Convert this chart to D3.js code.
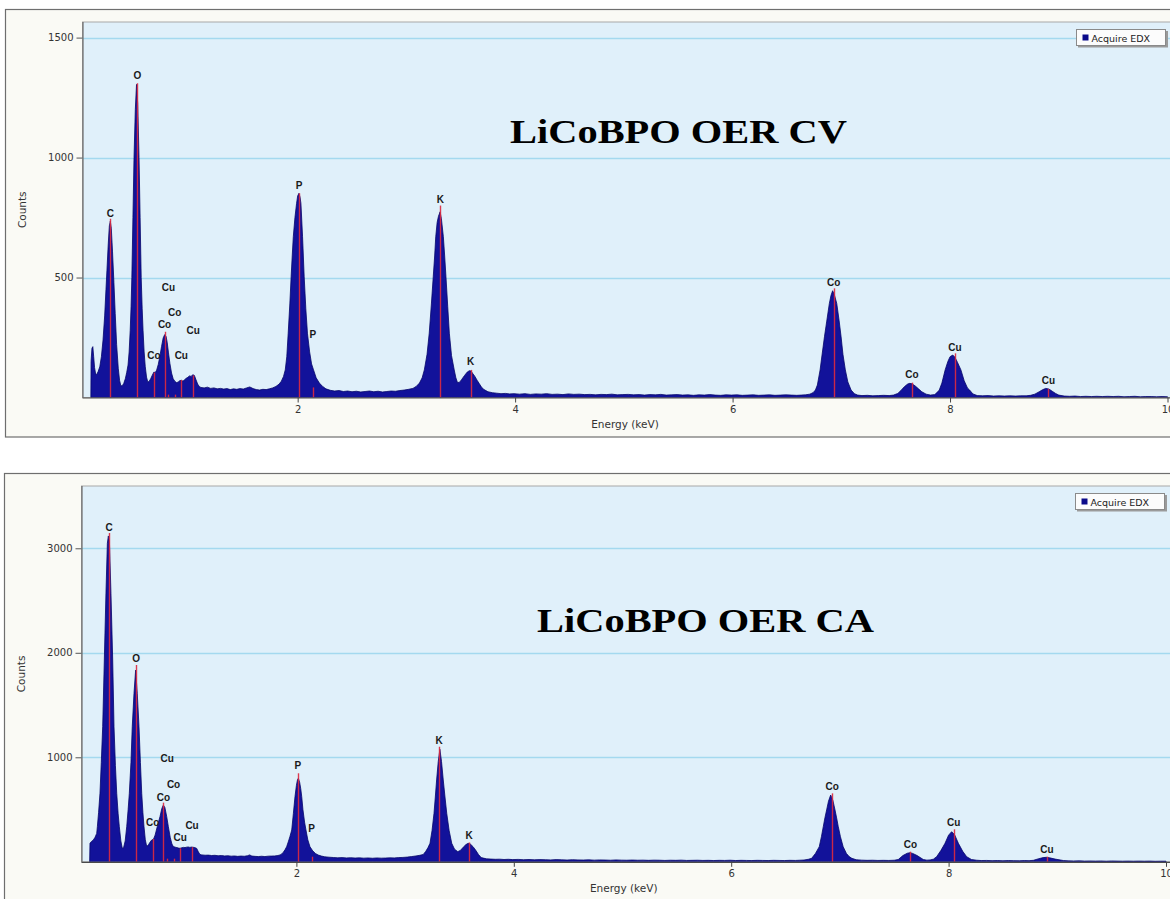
<!DOCTYPE html>
<html>
<head>
<meta charset="utf-8">
<script src="https://cdn.jsdelivr.net/npm/d3@7"></script>
<style>
  html, body { margin: 0; padding: 0; background: #ffffff; }
  svg { display: block; }
</style>
</head>
<body>
<svg id="chart" width="1170" height="899"></svg>
<script>
// ---- EDX spectra: [energy keV, counts] ----
const cvSpectrum = [
  [0.098,0],[0.100,150],[0.108,205],[0.116,212],[0.124,170],[0.132,125],[0.142,98],[0.152,96],[0.165,108],
  [0.180,128],[0.195,170],[0.210,240],[0.225,340],[0.237,450],[0.246,530],[0.258,640],[0.268,715],[0.277,735],
  [0.286,705],[0.297,610],[0.310,480],[0.322,350],[0.335,220],[0.350,122],[0.362,72],[0.374,48],[0.388,50],
  [0.400,58],[0.415,78],[0.428,105],[0.440,135],[0.450,190],[0.460,280],[0.468,380],[0.475,500],[0.485,750],
  [0.495,1000],[0.507,1200],[0.518,1305],[0.529,1225],[0.541,1000],[0.551,750],[0.561,500],[0.570,370],
  [0.578,280],[0.588,190],[0.598,130],[0.610,85],[0.622,64],[0.635,68],[0.648,78],[0.662,92],[0.678,106],
  [0.690,104],[0.703,114],[0.718,138],[0.733,172],[0.748,212],[0.763,248],[0.777,262],[0.790,254],[0.800,230],
  [0.812,186],[0.825,142],[0.840,102],[0.855,78],[0.870,68],[0.885,62],[0.900,64],[0.915,70],[0.930,72],
  [0.945,68],[0.960,74],[0.975,80],[0.990,84],[1.005,90],[1.020,88],[1.035,95],[1.050,92],[1.065,74],
  [1.080,56],[1.095,46],[1.110,42],[1.14,40],[1.17,43],[1.20,38],[1.23,40],[1.26,36],[1.29,38],[1.32,35],
  [1.35,37],[1.38,33],[1.41,36],[1.44,34],[1.47,37],[1.50,35],[1.53,40],[1.56,44],[1.59,37],[1.62,33],
  [1.65,31],[1.68,34],[1.71,33],[1.74,36],[1.77,40],[1.80,46],[1.83,56],[1.85,68],[1.87,88],[1.886,115],
  [1.900,170],[1.913,268],[1.928,390],[1.940,503],[1.950,590],[1.960,670],[1.975,750],[1.990,809],[2.000,840],
  [2.012,851],[2.022,835],[2.030,809],[2.045,670],[2.060,503],[2.075,370],[2.090,268],[2.110,190],[2.128,140],
  [2.146,115],[2.170,82],[2.200,60],[2.230,46],[2.260,36],[2.30,30],[2.34,27],[2.38,29],[2.42,25],[2.46,27],
  [2.50,24],[2.54,26],[2.58,23],[2.62,25],[2.66,27],[2.70,24],[2.74,26],[2.78,23],[2.82,25],[2.86,27],
  [2.90,26],[2.94,29],[2.98,31],[3.02,34],[3.06,38],[3.09,46],[3.12,60],[3.145,82],[3.165,115],[3.190,180],
  [3.210,268],[3.230,390],[3.247,503],[3.260,590],[3.270,670],[3.283,730],[3.295,755],[3.310,774],[3.322,745],
  [3.340,670],[3.352,590],[3.364,503],[3.380,380],[3.395,268],[3.415,175],[3.440,115],[3.455,82],[3.470,62],
  [3.490,64],[3.510,76],[3.535,92],[3.560,106],[3.580,112],[3.595,110],[3.610,100],[3.630,88],[3.650,72],
  [3.670,58],[3.690,44],[3.710,34],[3.75,24],[3.79,20],[3.83,18],[3.87,16],[3.91,17],[3.95,15],[3.99,16],
  [4.04,14],[4.09,16],[4.14,13],[4.19,15],[4.24,14],[4.29,16],[4.34,13],[4.39,14],[4.44,12],[4.49,15],
  [4.54,13],[4.59,14],[4.64,12],[4.69,13],[4.74,11],[4.79,13],[4.84,12],[4.89,14],[4.94,11],[4.99,12],
  [5.04,13],[5.09,11],[5.14,12],[5.19,10],[5.24,12],[5.29,11],[5.34,13],[5.39,10],[5.44,11],[5.49,12],
  [5.54,10],[5.59,11],[5.64,9],[5.69,11],[5.74,10],[5.79,12],[5.84,10],[5.89,9],[5.94,11],[5.99,10],
  [6.04,11],[6.09,9],[6.14,10],[6.19,11],[6.24,9],[6.29,10],[6.34,11],[6.39,9],[6.44,10],[6.49,11],
  [6.54,10],[6.59,9],[6.63,10],[6.67,11],[6.71,14],[6.74,20],[6.762,31],[6.780,52],[6.805,115],[6.825,185],
  [6.845,253],[6.865,315],[6.890,392],[6.905,425],[6.920,445],[6.935,430],[6.958,392],[6.980,320],[6.998,253],
  [7.015,180],[7.037,115],[7.060,65],[7.090,31],[7.12,16],[7.15,10],[7.19,8],[7.24,9],[7.29,7],[7.34,8],
  [7.39,9],[7.44,8],[7.48,10],[7.52,17],[7.55,30],[7.58,45],[7.61,56],[7.63,59],[7.65,57],[7.68,48],
  [7.71,36],[7.74,24],[7.78,14],[7.82,10],[7.86,12],[7.90,30],[7.925,60],[7.955,115],[7.980,150],[8.000,170],
  [8.025,177],[8.045,168],[8.070,145],[8.100,115],[8.130,70],[8.160,40],[8.180,31],[8.21,15],[8.25,8],[8.30,7],
  [8.35,8],[8.40,6],[8.45,7],[8.50,6],[8.55,7],[8.60,6],[8.65,7],[8.70,7],[8.74,9],[8.78,14],[8.82,24],
  [8.85,32],[8.88,38],[8.91,35],[8.94,26],[8.97,17],[9.00,10],[9.05,6],[9.10,5],[9.15,6],[9.20,4],[9.25,5],
  [9.30,4],[9.35,5],[9.40,4],[9.45,5],[9.50,4],[9.55,5],[9.60,3],[9.65,4],[9.70,5],[9.75,3],[9.80,4],
  [9.85,4],[9.90,3],[9.95,4],[10.0,3],[10.0,0]
];

const caSpectrum = [
  [0.098,0],[0.101,177],[0.115,195],[0.132,209],[0.148,235],[0.163,272],[0.169,336],[0.180,470],[0.193,655],
  [0.205,950],[0.218,1293],[0.233,1931],[0.248,2570],[0.261,3048],[0.270,3118],[0.280,3060],[0.294,2570],
  [0.310,1931],[0.322,1293],[0.335,920],[0.347,655],[0.360,460],[0.371,336],[0.385,200],[0.398,130],
  [0.410,135],[0.425,200],[0.439,336],[0.452,500],[0.463,655],[0.478,950],[0.490,1293],[0.506,1612],
  [0.521,1835],[0.536,1612],[0.552,1293],[0.565,950],[0.577,655],[0.588,470],[0.598,336],[0.610,210],
  [0.623,146],[0.640,165],[0.655,190],[0.669,209],[0.685,215],[0.700,255],[0.720,336],[0.745,432],
  [0.762,510],[0.776,543],[0.790,520],[0.807,432],[0.822,336],[0.840,230],[0.855,170],[0.868,146],
  [0.885,140],[0.900,136],[0.915,132],[0.929,129],[0.945,134],[0.960,138],[0.975,136],[0.990,140],
  [1.005,142],[1.020,138],[1.035,141],[1.050,139],[1.065,136],[1.083,128],[1.098,95],[1.113,70],[1.13,66],
  [1.16,63],[1.19,64],[1.22,60],[1.25,62],[1.28,58],[1.31,60],[1.34,56],[1.37,58],[1.40,54],[1.43,56],
  [1.46,52],[1.49,55],[1.52,53],[1.55,58],[1.57,66],[1.59,55],[1.62,52],[1.65,50],[1.68,53],[1.71,50],
  [1.74,54],[1.77,55],[1.80,56],[1.83,60],[1.85,66],[1.865,75],[1.880,92],[1.895,115],[1.910,144],[1.925,190],
  [1.940,240],[1.957,304],[1.972,460],[1.987,623],[2.000,730],[2.010,785],[2.018,799],[2.030,760],[2.040,700],
  [2.049,623],[2.060,500],[2.075,380],[2.088,304],[2.105,210],[2.125,144],[2.150,105],[2.175,80],[2.200,65],
  [2.23,55],[2.26,48],[2.30,44],[2.34,41],[2.38,38],[2.42,40],[2.46,37],[2.50,39],[2.54,36],[2.58,38],
  [2.62,35],[2.66,37],[2.70,34],[2.74,37],[2.78,35],[2.82,36],[2.86,38],[2.90,37],[2.94,40],[2.98,42],
  [3.02,45],[3.06,50],[3.10,56],[3.135,62],[3.167,70],[3.190,100],[3.210,135],[3.229,177],[3.248,300],
  [3.266,464],[3.278,620],[3.290,783],[3.305,960],[3.320,1077],[3.335,960],[3.351,783],[3.367,620],
  [3.383,464],[3.405,300],[3.429,177],[3.455,120],[3.485,97],[3.510,110],[3.535,140],[3.560,165],[3.580,177],
  [3.600,170],[3.625,145],[3.650,110],[3.675,70],[3.700,40],[3.75,28],[3.79,26],[3.83,24],[3.87,25],
  [3.91,22],[3.95,24],[3.99,21],[4.04,23],[4.09,20],[4.14,22],[4.19,19],[4.24,21],[4.29,20],[4.34,18],
  [4.39,21],[4.44,19],[4.49,17],[4.54,20],[4.59,18],[4.64,17],[4.69,19],[4.74,16],[4.79,18],[4.84,17],
  [4.89,15],[4.94,18],[4.99,16],[5.04,15],[5.09,17],[5.14,15],[5.19,16],[5.24,14],[5.29,16],[5.34,15],
  [5.39,13],[5.44,15],[5.49,14],[5.54,16],[5.59,13],[5.64,14],[5.69,15],[5.74,13],[5.79,14],[5.84,12],
  [5.89,14],[5.94,13],[5.99,15],[6.04,12],[6.09,14],[6.14,13],[6.19,12],[6.24,14],[6.29,13],[6.34,12],
  [6.39,14],[6.44,13],[6.49,12],[6.54,14],[6.59,13],[6.63,15],[6.67,17],[6.71,24],[6.74,33],[6.775,80],
  [6.810,144],[6.830,240],[6.847,336],[6.862,420],[6.878,496],[6.895,580],[6.915,639],[6.935,590],
  [6.955,496],[6.970,420],[6.985,336],[7.005,240],[7.030,144],[7.060,80],[7.085,50],[7.110,33],[7.15,20],
  [7.20,16],[7.25,14],[7.30,15],[7.35,13],[7.40,14],[7.45,13],[7.50,15],[7.537,22],[7.580,60],[7.620,82],
  [7.645,87],[7.670,80],[7.710,60],[7.767,22],[7.80,16],[7.83,18],[7.86,25],[7.890,49],[7.930,110],
  [7.967,177],[8.000,255],[8.028,288],[8.055,260],[8.090,177],[8.130,100],[8.166,49],[8.210,22],[8.258,15],
  [8.30,12],[8.35,13],[8.40,11],[8.45,12],[8.50,10],[8.55,12],[8.60,11],[8.65,10],[8.70,12],[8.74,11],
  [8.78,14],[8.83,30],[8.87,40],[8.90,43],[8.93,38],[8.98,26],[9.056,12],[9.10,9],[9.15,8],[9.20,9],
  [9.25,7],[9.30,8],[9.35,7],[9.40,8],[9.45,6],[9.50,8],[9.55,7],[9.60,6],[9.65,7],[9.70,6],[9.75,7],
  [9.80,6],[9.85,7],[9.90,5],[9.95,6],[10.0,6],[10.0,0]
];

// ---- Element line markers: element, line energy (keV), marker height (counts) ----
const cvLines = [
  { el: "C",  keV: 0.277, counts: 745 },
  { el: "O",  keV: 0.525, counts: 1310 },
  { el: "Co", keV: 0.678, counts: 104 },
  { el: "Co", keV: 0.776, counts: 274 },
  { el: "Cu", keV: 0.811, counts: 12 },
  { el: "Co", keV: 0.870, counts: 12 },
  { el: "Cu", keV: 0.930, counts: 73 },
  { el: "Cu", keV: 1.040, counts: 92 },
  { el: "P",  keV: 2.013, counts: 851 },
  { el: "P",  keV: 2.139, counts: 42 },
  { el: "K",  keV: 3.313, counts: 800 },
  { el: "K",  keV: 3.590, counts: 115 },
  { el: "Co", keV: 6.930, counts: 455 },
  { el: "Co", keV: 7.649, counts: 62 },
  { el: "Cu", keV: 8.046, counts: 184 },
  { el: "Cu", keV: 8.904, counts: 36 }
];
// count level of each marker's label, same order as cvLines
const cvLabelLevels = [767, 1340, 173, 305, 459, 353, 176, 281, 885, 263, 827, 149, 480, 94, 209, 70];

const caLines = [
  { el: "C",  keV: 0.277, counts: 3146 },
  { el: "O",  keV: 0.525, counts: 1883 },
  { el: "Co", keV: 0.678, counts: 218 },
  { el: "Co", keV: 0.776, counts: 566 },
  { el: "Cu", keV: 0.811, counts: 30 },
  { el: "Co", keV: 0.870, counts: 30 },
  { el: "Cu", keV: 0.930, counts: 130 },
  { el: "Cu", keV: 1.040, counts: 140 },
  { el: "P",  keV: 2.013, counts: 847 },
  { el: "P",  keV: 2.139, counts: 49 },
  { el: "K",  keV: 3.313, counts: 1101 },
  { el: "K",  keV: 3.590, counts: 185 },
  { el: "Co", keV: 6.930, counts: 655 },
  { el: "Co", keV: 7.649, counts: 97 },
  { el: "Cu", keV: 8.046, counts: 311 },
  { el: "Cu", keV: 8.904, counts: 49 }
];
const caLabelLevels = [3197, 1947, 374, 617, 984, 744, 231, 352, 926, 314, 1159, 256, 725, 170, 374, 120];

// ---- Axis ticks and texts ----
const energyTicks = [2, 4, 6, 8, 10];
const cvCountTicks = [500, 1000, 1500];
const caCountTicks = [1000, 2000, 3000];
const energyDomain = [0, 10];
const cvCountMax = 1565;
const caCountMax = 3596;
const cvTitle = "LiCoBPO OER CV";
const caTitle = "LiCoBPO OER CA";
const xAxisTitle = "Energy (keV)";
const yAxisTitle = "Counts";
const legendText = "Acquire EDX";

const svg = d3.select("#chart");
svg.append("rect").attr("width", 1170).attr("height", 899).attr("fill", "#ffffff");

function drawPanel(cfg) {
  const g = svg.append("g");
  const { panel, plot } = cfg;

  // outer frame
  g.append("rect")
    .attr("x", panel.x).attr("y", panel.y)
    .attr("width", panel.w).attr("height", panel.h)
    .attr("fill", "#fafaf5").attr("stroke", "#6e6e6e").attr("stroke-width", 1.2);

  // plotting area
  g.append("rect")
    .attr("x", plot.left).attr("y", plot.top)
    .attr("width", plot.right - plot.left).attr("height", plot.bottom - plot.top)
    .attr("fill", "#e0f0fa").attr("stroke", "#a8a8a8").attr("stroke-width", 1);

  const x = d3.scaleLinear().domain(energyDomain).range([plot.x0, plot.x10]);
  const y = d3.scaleLinear().domain([0, cfg.countMax]).range([plot.bottom, plot.top]);

  const clipId = "clip-" + cfg.id;
  g.append("clipPath").attr("id", clipId)
    .append("rect")
    .attr("x", plot.left).attr("y", plot.top)
    .attr("width", plot.right - plot.left).attr("height", plot.bottom - plot.top);

  // horizontal grid
  g.append("g").selectAll("line").data(cfg.countTicks).join("line")
    .attr("x1", plot.left).attr("x2", plot.right)
    .attr("y1", d => Math.round(y(d)) + 0.5).attr("y2", d => Math.round(y(d)) + 0.5)
    .attr("stroke", "#a4d9ef").attr("stroke-width", 1.3);

  const body = g.append("g").attr("clip-path", `url(#${clipId})`);

  // spectrum
  const area = d3.area()
    .x(d => x(d[0]))
    .y0(y(0))
    .y1(d => y(d[1]));
  body.append("path")
    .datum(cfg.spectrum)
    .attr("d", area)
    .attr("fill", "#12129a")
    .attr("stroke", "#06066a")
    .attr("stroke-width", 0.8)
    .attr("stroke-linejoin", "round");

  // element line markers
  body.append("g").selectAll("line").data(cfg.lines).join("line")
    .attr("x1", d => Math.round(x(d.keV)) + 0.5).attr("x2", d => Math.round(x(d.keV)) + 0.5)
    .attr("y1", y(0)).attr("y2", d => y(d.counts))
    .attr("stroke", "#dc2a40").attr("stroke-width", 1.4).attr("opacity", 0.92);

  // element labels
  g.append("g").selectAll("text").data(cfg.lines).join("text")
    .attr("x", d => x(d.keV))
    .attr("y", (d, i) => y(cfg.labelLevels[i]))
    .attr("text-anchor", "middle")
    .attr("dominant-baseline", "central")
    .attr("font-family", "'Liberation Sans', Arial, sans-serif")
    .attr("font-weight", "bold")
    .attr("font-size", 10)
    .attr("fill", "#1a1a1a")
    .text(d => d.el);

  // axis lines
  g.append("line")
    .attr("x1", plot.left + 0.5).attr("x2", plot.left + 0.5)
    .attr("y1", plot.top).attr("y2", plot.bottom)
    .attr("stroke", "#6a6a6a").attr("stroke-width", 1.2);
  g.append("line")
    .attr("x1", plot.left).attr("x2", plot.right)
    .attr("y1", plot.bottom + 0.5).attr("y2", plot.bottom + 0.5)
    .attr("stroke", "#4a4a4a").attr("stroke-width", 1.2);

  // y axis
  const yAxis = d3.axisLeft(y).tickValues(cfg.countTicks).tickSize(6).tickPadding(3).tickFormat(d3.format("d"));
  const ya = g.append("g").attr("transform", `translate(${plot.left},0)`).call(yAxis);
  ya.select(".domain").remove();
  ya.selectAll(".tick line").attr("stroke", "#555");
  ya.selectAll(".tick text")
    .attr("font-family", "'DejaVu Sans', Verdana, sans-serif")
    .attr("font-size", 10).attr("fill", "#333");

  // x axis
  const xAxis = d3.axisBottom(x).tickValues(energyTicks).tickSize(5).tickPadding(3).tickFormat(d3.format("d"));
  const xa = g.append("g").attr("transform", `translate(0,${plot.bottom})`).call(xAxis);
  xa.select(".domain").remove();
  xa.selectAll(".tick line").attr("stroke", "#444");
  xa.selectAll(".tick text")
    .attr("font-family", "'DejaVu Sans', Verdana, sans-serif")
    .attr("font-size", 10).attr("fill", "#333");

  // axis titles
  g.append("text")
    .attr("x", (plot.left + plot.x10) / 2)
    .attr("y", plot.bottom + 26)
    .attr("text-anchor", "middle").attr("dominant-baseline", "central")
    .attr("font-family", "'DejaVu Sans', Verdana, sans-serif")
    .attr("font-size", 10.5).attr("fill", "#333")
    .text(xAxisTitle);
  g.append("text")
    .attr("transform", `translate(${panel.x + 16},${(plot.top + plot.bottom) / 2}) rotate(-90)`)
    .attr("text-anchor", "middle").attr("dominant-baseline", "central")
    .attr("font-family", "'DejaVu Sans', Verdana, sans-serif")
    .attr("font-size", 10.5).attr("fill", "#333")
    .text(yAxisTitle);

  // legend
  const lg = g.append("g").attr("transform", `translate(${cfg.legend.x},${cfg.legend.y})`);
  lg.append("rect").attr("x", 1.5).attr("y", 1.5).attr("width", 90).attr("height", 16.5)
    .attr("fill", "#9a9a9a");
  lg.append("rect").attr("x", 0).attr("y", 0).attr("width", 89).attr("height", 16)
    .attr("fill", "#fcfcfc").attr("stroke", "#8a8a8a").attr("stroke-width", 1);
  lg.append("rect").attr("x", 6).attr("y", 5).attr("width", 6).attr("height", 6)
    .attr("fill", "#0a0a8a");
  lg.append("text").attr("x", 15).attr("y", 8.5)
    .attr("dominant-baseline", "central")
    .attr("font-family", "'DejaVu Sans', Verdana, sans-serif")
    .attr("font-size", 9.5).attr("fill", "#222")
    .text(legendText);

  // sample title
  g.append("text")
    .attr("x", cfg.titlePos.x).attr("y", cfg.titlePos.y)
    .attr("font-family", "'Liberation Serif', 'Times New Roman', serif")
    .attr("font-weight", "bold")
    .attr("font-size", 34)
    .attr("textLength", 337).attr("lengthAdjust", "spacingAndGlyphs")
    .attr("fill", "#000")
    .text(cfg.title);
}

drawPanel({
  id: "cv",
  spectrum: cvSpectrum, lines: cvLines, labelLevels: cvLabelLevels,
  countTicks: cvCountTicks, countMax: cvCountMax, title: cvTitle,
  panel: { x: 5.5, y: 9.5, w: 1175, h: 427.5 },
  plot: { left: 82.5, right: 1180, top: 22, bottom: 397.5, x0: 80.2, x10: 1167.5 },
  legend: { x: 1076.5, y: 29.5 },
  titlePos: { x: 510, y: 142.5 }
});

drawPanel({
  id: "ca",
  spectrum: caSpectrum, lines: caLines, labelLevels: caLabelLevels,
  countTicks: caCountTicks, countMax: caCountMax, title: caTitle,
  panel: { x: 4.5, y: 473.5, w: 1175, h: 440 },
  plot: { left: 81.5, right: 1180, top: 486, bottom: 861.8, x0: 79, x10: 1166 },
  legend: { x: 1075.5, y: 493.5 },
  titlePos: { x: 537, y: 631.5 }
});
</script>
</body>
</html>
